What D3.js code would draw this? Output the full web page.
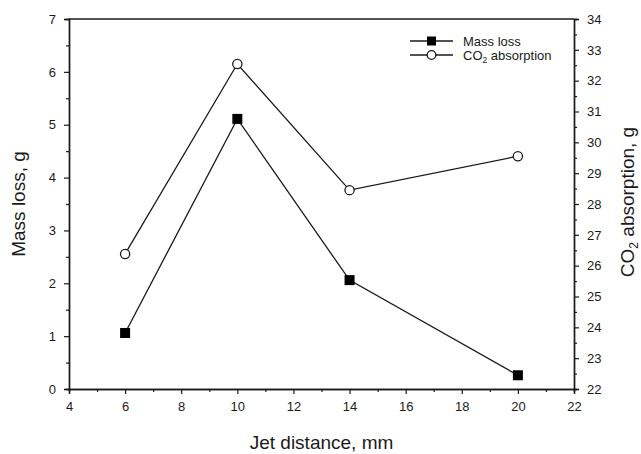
<!DOCTYPE html>
<html>
<head>
<meta charset="utf-8">
<script src="https://cdn.jsdelivr.net/npm/d3@7"></script>
<style>
  html, body { margin: 0; padding: 0; background: #fff; }
  svg { display: block; font-family: "Liberation Sans", Arial, sans-serif; }
</style>
</head>
<body>
<svg id="chart" width="641" height="454"></svg>
<script>
// Jet distance (mm) and the two measured responses
const jetDistance = [6, 10, 14, 20];
const massLoss = [1.06, 5.11, 2.06, 0.26];
const co2Absorption = [26.38, 32.54, 28.45, 29.55];

const xTicks = [4, 6, 8, 10, 12, 14, 16, 18, 20, 22];
const xMinorTicks = [5, 7, 9, 11, 13, 15, 17, 19, 21];
const yLeftTicks = [0, 1, 2, 3, 4, 5, 6, 7];
const yLeftMinorTicks = [0.5, 1.5, 2.5, 3.5, 4.5, 5.5, 6.5];
const yRightTicks = [22, 23, 24, 25, 26, 27, 28, 29, 30, 31, 32, 33, 34];
const yRightMinorTicks = [22.5, 23.5, 24.5, 25.5, 26.5, 27.5, 28.5, 29.5, 30.5, 31.5, 32.5, 33.5];

const W = 641, H = 454;
const m = { left: 69, right: 67, top: 19, bottom: 65 };
const svg = d3.select("#chart");

const x = d3.scaleLinear().domain([4, 22]).range([m.left, W - m.right]);
const yL = d3.scaleLinear().domain([0, 7]).range([H - m.bottom, m.top]);
const yR = d3.scaleLinear().domain([22, 34]).range([H - m.bottom, m.top]);

const ink = "#1a1a1a";

function styleAxis(g) {
  g.select(".domain").attr("stroke", ink).attr("stroke-width", 1.4);
  g.selectAll(".tick line").attr("stroke", ink).attr("stroke-width", 1.2);
  g.selectAll(".tick text").attr("fill", ink).attr("font-size", 13)
    .attr("font-family", "'Liberation Sans', Arial, sans-serif");
}

// minor ticks (unlabelled)
svg.append("g").attr("transform", `translate(0,${H - m.bottom})`)
  .call(d3.axisBottom(x).tickValues(xMinorTicks).tickSize(3).tickFormat(""))
  .call(styleAxis);
svg.append("g").attr("transform", `translate(${m.left},0)`)
  .call(d3.axisLeft(yL).tickValues(yLeftMinorTicks).tickSize(3).tickFormat(""))
  .call(styleAxis);
svg.append("g").attr("transform", `translate(${W - m.right},0)`)
  .call(d3.axisRight(yR).tickValues(yRightMinorTicks).tickSize(3).tickFormat(""))
  .call(styleAxis);

// major ticks with labels
svg.append("g").attr("transform", `translate(0,${H - m.bottom})`)
  .call(d3.axisBottom(x).tickValues(xTicks).tickSize(5).tickPadding(8).tickFormat(d3.format("d")))
  .call(styleAxis);
svg.append("g").attr("transform", `translate(${m.left},0)`)
  .call(d3.axisLeft(yL).tickValues(yLeftTicks).tickSize(5).tickPadding(8).tickFormat(d3.format("d")))
  .call(styleAxis);
svg.append("g").attr("transform", `translate(${W - m.right},0)`)
  .call(d3.axisRight(yR).tickValues(yRightTicks).tickSize(5).tickPadding(8).tickFormat(d3.format("d")))
  .call(styleAxis);

// top frame line
svg.append("line")
  .attr("x1", m.left).attr("x2", W - m.right)
  .attr("y1", m.top).attr("y2", m.top)
  .attr("stroke", ink).attr("stroke-width", 1.4);

// axis titles
svg.append("text")
  .attr("x", (m.left + W - m.right) / 2).attr("y", 449)
  .attr("text-anchor", "middle").attr("font-size", 19).attr("fill", ink)
  .text("Jet distance, mm");

svg.append("text")
  .attr("transform", `translate(25,${(m.top + H - m.bottom) / 2}) rotate(-90)`)
  .attr("text-anchor", "middle").attr("font-size", 19).attr("fill", ink)
  .text("Mass loss, g");

const rTitle = svg.append("text")
  .attr("transform", `translate(634,${(m.top + H - m.bottom) / 2 - 2}) rotate(-90)`)
  .attr("text-anchor", "middle").attr("font-size", 19).attr("fill", ink);
rTitle.append("tspan").text("CO");
rTitle.append("tspan").attr("font-size", 12).attr("dy", 4).text("2");
rTitle.append("tspan").attr("dy", -4).text(" absorption, g");

// series
const lineL = d3.line().x((d, i) => x(jetDistance[i])).y(d => yL(d));
const lineR = d3.line().x((d, i) => x(jetDistance[i])).y(d => yR(d));

svg.append("path").datum(co2Absorption).attr("d", lineR)
  .attr("fill", "none").attr("stroke", ink).attr("stroke-width", 1.3);
svg.append("path").datum(massLoss).attr("d", lineL)
  .attr("fill", "none").attr("stroke", ink).attr("stroke-width", 1.3);

const sq = 10;
svg.selectAll(".sq").data(massLoss).join("rect")
  .attr("x", (d, i) => x(jetDistance[i]) - sq / 2)
  .attr("y", d => yL(d) - sq / 2)
  .attr("width", sq).attr("height", sq).attr("fill", "#000");

svg.selectAll(".ci").data(co2Absorption).join("circle")
  .attr("cx", (d, i) => x(jetDistance[i]))
  .attr("cy", d => yR(d))
  .attr("r", 4.6).attr("fill", "#fff").attr("stroke", ink).attr("stroke-width", 1.3);

// legend
const leg = svg.append("g");
const lx0 = 410, lx1 = 453, ly1 = 41, ly2 = 55, tx = 463;
leg.append("line").attr("x1", lx0).attr("x2", lx1).attr("y1", ly1).attr("y2", ly1)
  .attr("stroke", ink).attr("stroke-width", 1.3);
leg.append("rect").attr("x", (lx0 + lx1) / 2 - 4.5).attr("y", ly1 - 4.5)
  .attr("width", 9).attr("height", 9).attr("fill", "#000");
leg.append("text").attr("x", tx).attr("y", ly1 + 4.5).attr("font-size", 13).attr("fill", ink)
  .text("Mass loss");
leg.append("line").attr("x1", lx0).attr("x2", lx1).attr("y1", ly2).attr("y2", ly2)
  .attr("stroke", ink).attr("stroke-width", 1.3);
leg.append("circle").attr("cx", (lx0 + lx1) / 2).attr("cy", ly2).attr("r", 4.3)
  .attr("fill", "#fff").attr("stroke", ink).attr("stroke-width", 1.3);
const lt = leg.append("text").attr("x", tx).attr("y", ly2 + 4.5).attr("font-size", 13).attr("fill", ink);
lt.append("tspan").text("CO");
lt.append("tspan").attr("font-size", 8.5).attr("dy", 3).text("2");
lt.append("tspan").attr("dy", -3).text(" absorption");
</script>
</body>
</html>
